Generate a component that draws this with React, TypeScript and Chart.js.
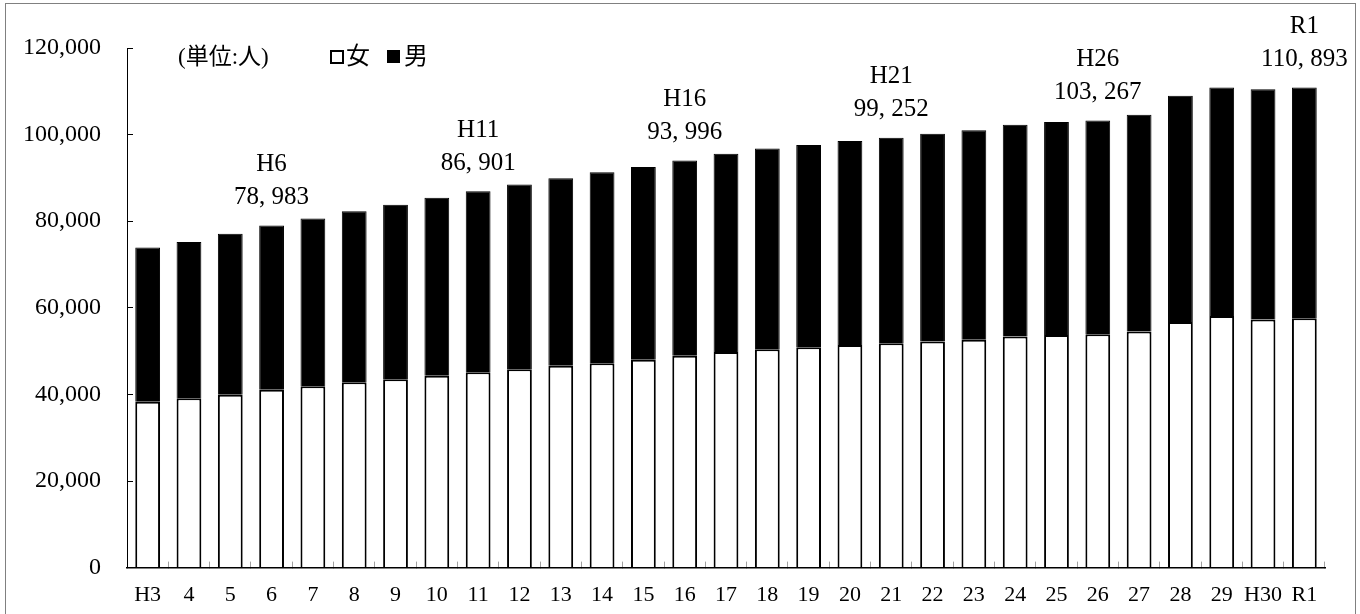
import React, { useEffect, useRef } from "react";
import { Chart, registerables } from "chart.js";

Chart.register(...registerables);

const categories = [
  "H3", "4", "5", "6", "7", "8", "9", "10", "11", "12", "13", "14", "15", "16",
  "17", "18", "19", "20", "21", "22", "23", "24", "25", "26", "27", "28", "29", "H30", "R1",
];

// 女 (female)
const female = [
  38300, 39100, 39900, 41100, 41900, 42800, 43500, 44300, 45100, 45800, 46600, 47200, 48000, 48900,
  49800, 50400, 50900, 51400, 51800, 52200, 52600, 53400, 53700, 53900, 54500, 56700, 58100, 57300, 57600,
];

// 男 (male)
const male = [
  35600, 36100, 37200, 37883, 38700, 39500, 40300, 41100, 41801, 42700, 43300, 44100, 44500, 45096,
  45800, 46400, 46700, 47100, 47452, 48000, 48400, 48900, 49200, 49367, 50100, 52300, 52800, 53200, 53293,
];

// categories that carry a total label, and the era name shown above them
const annotatedCategories = ["6", "11", "16", "21", "26", "R1"];
const annotationNames = ["H6", "H11", "H16", "H21", "H26", "R1"];

const yMin = 0;
const yMax = 120000;
const yStep = 20000;

const unitLabel = "(単位:人)";
const seriesLabels = ["女", "男"];

const SERIF = '"Liberation Serif", "DejaVu Serif", "Noto Sans CJK JP", serif';

const overlayPlugin = {
  id: "overlay",
  afterDraw(chart: any) {
    const ctx = chart.ctx;
    const xs = chart.scales.x;
    const ys = chart.scales.y;
    ctx.save();
    ctx.fillStyle = "#000";
    ctx.textBaseline = "middle";

    // unit label
    ctx.font = `23px ${SERIF}`;
    ctx.textAlign = "left";
    ctx.fillText(unitLabel, 178, 58);

    // legend
    ctx.font = `24px ${SERIF}`;
    ctx.fillStyle = "#fff";
    ctx.fillRect(331, 51, 12, 12);
    ctx.strokeStyle = "#000";
    ctx.lineWidth = 2;
    ctx.strokeRect(331, 51, 12, 12);
    ctx.fillStyle = "#000";
    ctx.fillText(seriesLabels[0], 346, 58);
    ctx.fillRect(387, 50, 13, 13);
    ctx.fillText(seriesLabels[1], 404, 58);

    // annotations
    ctx.textAlign = "center";
    ctx.font = `25px ${SERIF}`;
    annotatedCategories.forEach((cat, i) => {
      const idx = categories.indexOf(cat);
      if (idx < 0) return;
      const total = female[idx] + male[idx];
      const x = xs.getPixelForValue(idx);
      const yTop = ys.getPixelForValue(total);
      const valueText = total.toLocaleString("en-US").replace(/,/g, ", ");
      ctx.fillText(annotationNames[i], x, yTop - 61);
      ctx.fillText(valueText, x, yTop - 28);
    });
    ctx.restore();
  },
};

export default function App() {
  const canvasRef = useRef<HTMLCanvasElement | null>(null);

  useEffect(() => {
    const canvas = canvasRef.current;
    if (!canvas) return;
    const chart = new Chart(canvas, {
      type: "bar",
      data: {
        labels: categories,
        datasets: [
          {
            label: seriesLabels[0],
            data: female,
            backgroundColor: "#ffffff",
            borderColor: "#000000",
            borderWidth: 2,
            barPercentage: 0.6,
            categoryPercentage: 1,
          },
          {
            label: seriesLabels[1],
            data: male,
            backgroundColor: "#000000",
            borderColor: "#000000",
            borderWidth: 1,
            barPercentage: 0.6,
            categoryPercentage: 1,
          },
        ],
      },
      options: {
        animation: false,
        responsive: false,
        maintainAspectRatio: false,
        devicePixelRatio: 1,
        layout: { padding: { top: 48, right: 35, left: 0, bottom: 0 } },
        plugins: {
          legend: { display: false },
          tooltip: { enabled: false },
          title: { display: false },
        },
        scales: {
          x: {
            stacked: true,
            offset: true,
            grid: {
              offset: true,
              drawOnChartArea: false,
              drawTicks: true,
              tickLength: -6,
              color: "#a0a0a0",
            },
            border: { display: true, color: "#000", width: 1.5 },
            ticks: {
              color: "#000",
              font: { family: SERIF, size: 22 },
              padding: 20,
              maxRotation: 0,
              autoSkip: false,
            },
            afterFit: (s: any) => {
              s.height = 45;
            },
          },
          y: {
            stacked: true,
            min: yMin,
            max: yMax,
            grid: {
              drawOnChartArea: false,
              drawTicks: true,
              tickLength: -6,
              color: "#000",
            },
            border: { display: true, color: "#000", width: 1 },
            ticks: {
              stepSize: yStep,
              color: "#000",
              font: { family: SERIF, size: 24 },
              padding: 32,
              callback: (v: any) => Number(v).toLocaleString("en-US"),
            },
            afterFit: (s: any) => {
              s.width = 127;
            },
          },
        },
      },
      plugins: [overlayPlugin],
    });
    return () => chart.destroy();
  }, []);

  return (
    <div
      style={{
        position: "absolute",
        left: 0,
        top: 0,
        width: 1360,
        height: 614,
        overflow: "hidden",
        background: "#fff",
      }}
    >
      <canvas
        ref={canvasRef}
        width={1360}
        height={614}
        style={{ position: "absolute", left: 0, top: 0, width: 1360, height: 614 }}
      />
      <div
        style={{
          position: "absolute",
          left: 5,
          top: 3,
          width: 1349,
          height: 700,
          border: "1px solid #808080",
          pointerEvents: "none",
        }}
      />
    </div>
  );
}
